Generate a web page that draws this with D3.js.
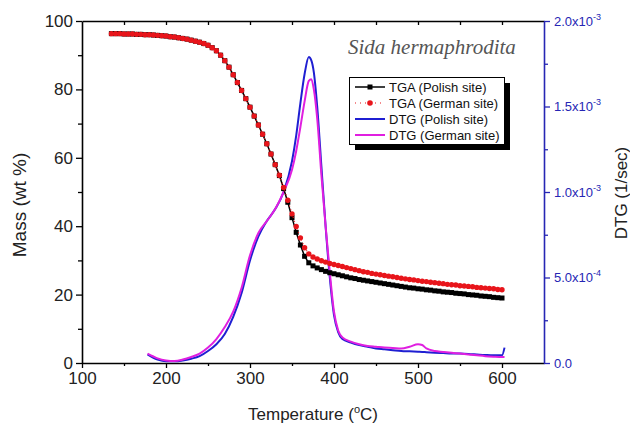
<!DOCTYPE html>
<html>
<head>
<meta charset="utf-8">
<script src="https://cdn.jsdelivr.net/npm/d3@7"></script>
<style>
    body { margin: 0; background: #fff; }
    svg { display: block; font-family: Arial, "Liberation Sans", sans-serif; }
</style>
</head>
<body>
<div id="chart"></div>
<script>

// TGA data (mass, wt %), sampled every 5 degC
const tgaTemp = [
    135, 140, 145, 150, 155, 160, 165, 170, 175, 180,
    185, 190, 195, 200, 205, 210, 215, 220, 225, 230,
    235, 240, 245, 250, 255, 260, 265, 270, 275, 280,
    285, 290, 295, 300, 305, 310, 315, 320, 325, 330,
    335, 340, 345, 350, 355, 360, 365, 370, 375, 380,
    385, 390, 395, 400, 405, 410, 415, 420, 425, 430,
    435, 440, 445, 450, 455, 460, 465, 470, 475, 480,
    485, 490, 495, 500, 505, 510, 515, 520, 525, 530,
    535, 540, 545, 550, 555, 560, 565, 570, 575, 580,
    585, 590, 595, 600
];
const tgaPolish = [
    96.3, 96.3, 96.3, 96.2, 96.2, 96.2, 96.1, 96.1, 96.0, 96.0,
    95.9, 95.8, 95.7, 95.6, 95.4, 95.3, 95.1, 94.9, 94.7, 94.4,
    94.1, 93.8, 93.4, 92.9, 92.2, 91.3, 90.0, 88.4, 86.5, 84.3,
    82.0, 79.7, 77.3, 74.8, 72.2, 69.6, 66.9, 64.1, 61.1, 58.0,
    54.8, 51.0, 47.0, 42.5, 38.2, 34.5, 31.2, 29.3, 28.4, 27.8,
    27.3, 26.8, 26.4, 26.1, 25.8, 25.5, 25.2, 24.9, 24.7, 24.4,
    24.2, 24.0, 23.8, 23.6, 23.4, 23.2, 23.0, 22.8, 22.6, 22.4,
    22.2, 22.0, 21.9, 21.7, 21.6, 21.4, 21.3, 21.1, 21.0, 20.8,
    20.7, 20.6, 20.4, 20.3, 20.2, 20.0, 19.9, 19.8, 19.6, 19.5,
    19.4, 19.2, 19.1, 19.0
];
const tgaGerman = [
    96.3, 96.3, 96.3, 96.2, 96.2, 96.2, 96.1, 96.1, 96.0, 96.0,
    95.9, 95.8, 95.7, 95.6, 95.4, 95.3, 95.1, 94.9, 94.7, 94.4,
    94.1, 93.8, 93.4, 92.9, 92.2, 91.3, 90.0, 88.4, 86.5, 84.3,
    82.0, 79.7, 77.3, 74.8, 72.2, 69.6, 66.9, 64.1, 61.1, 58.0,
    54.9, 51.3, 47.6, 43.6, 39.9, 36.6, 33.7, 31.9, 31.0, 30.4,
    29.9, 29.5, 29.1, 28.8, 28.5, 28.2, 27.9, 27.6, 27.3, 27.0,
    26.7, 26.5, 26.2, 26.0, 25.8, 25.6, 25.4, 25.2, 25.0, 24.8,
    24.6, 24.4, 24.3, 24.1, 23.9, 23.8, 23.6, 23.5, 23.3, 23.2,
    23.0, 22.9, 22.8, 22.6, 22.5, 22.4, 22.3, 22.1, 22.0, 21.9,
    21.8, 21.7, 21.5, 21.4
];

// DTG data, in units of 10^-4 1/sec
const dtgTemp = [
    178, 185, 190, 200, 210, 220, 230, 240, 250, 260,
    270, 280, 290, 300, 310, 320, 330, 340, 350, 355,
    360, 365, 370, 373, 376, 380, 385, 390, 395, 400,
    405, 410, 420, 430, 440, 450, 460, 470, 480, 490,
    500, 505, 510, 520, 530, 540, 550, 560, 570, 580,
    590, 600, 603
];
const dtgPolish = [
    0.5, 0.3, 0.2, 0.1, 0.1, 0.15, 0.25, 0.4, 0.7, 1.1,
    1.7, 2.7, 4.1, 6.0, 7.4, 8.3, 9.0, 10.0, 11.8, 13.3,
    15.2, 16.9, 17.9, 17.7, 17.0, 15.0, 11.5, 8.0, 5.0, 2.8,
    1.8, 1.4, 1.2, 1.05, 0.95, 0.85, 0.8, 0.75, 0.7, 0.68,
    0.66, 0.65, 0.63, 0.6, 0.58, 0.56, 0.55, 0.53, 0.5, 0.47,
    0.45, 0.45, 0.9
];
const dtgGerman = [
    0.55, 0.38, 0.27, 0.15, 0.12, 0.2, 0.35, 0.55, 0.9, 1.4,
    2.1, 3.0, 4.4, 6.3, 7.6, 8.3, 9.0, 10.0, 11.3, 12.4,
    13.8, 15.3, 16.5, 16.6, 16.0, 14.3, 11.0, 8.0, 5.3, 3.0,
    1.9, 1.5, 1.25, 1.1, 1.0, 0.95, 0.9, 0.88, 0.85, 0.95,
    1.1, 1.05, 0.85, 0.7, 0.65, 0.6, 0.55, 0.5, 0.45, 0.4,
    0.37, 0.35, 0.35
];

// axis ticks
const xTicks = [100, 200, 300, 400, 500, 600];
const xMinor = [150, 250, 350, 450, 550];
const xTopTicks = [150, 200, 250, 300, 350, 400, 450, 500, 550, 600];
const massTicks = [0, 20, 40, 60, 80, 100];
const massMinor = [10, 30, 50, 70, 90];
const dtgTicks = [0, 5, 10, 15, 20];
const dtgMinor = [2.5, 7.5, 12.5, 17.5];
const dtgTickLabels = [["0.0", ""], ["5.0x10", "-4"], ["1.0x10", "-3"], ["1.5x10", "-3"], ["2.0x10", "-3"]];

const legendItems = ["TGA (Polish site)", "TGA (German site)", "DTG (Polish site)", "DTG (German site)"];


class TgaChart {

    constructor(parentElement) {
        this.parentElement = parentElement;
        this.initVis();
    }

    initVis() {
        let vis = this;
        vis.width = 630;
        vis.height = 427;
        vis.blue = "#2626b4";

        vis.svg = d3.select("#" + vis.parentElement).append("svg")
            .attr("width", vis.width)
            .attr("height", vis.height);

        vis.x = d3.scaleLinear().domain([100, 650]).range([82, 544]);
        vis.yMass = d3.scaleLinear().domain([0, 100]).range([363, 21]);
        vis.yDtg = d3.scaleLinear().domain([0, 20]).range([363, 21]);

        vis.drawAxes();
        vis.drawData();
        vis.drawLegend();
    }

    drawAxes() {
        let vis = this;
        let x = vis.x;

        // bottom axis
        let gx = vis.svg.append("g").attr("transform", "translate(0,363)")
            .call(d3.axisBottom(x).tickValues(xTicks).tickSizeInner(5).tickSizeOuter(0).tickPadding(4));
        gx.selectAll("text").attr("font-size", 17).attr("fill", "#222").attr("font-family", "Arial, 'Liberation Sans'");
        vis.svg.append("g").attr("transform", "translate(0,363)")
            .call(d3.axisBottom(x).tickValues(xMinor).tickSize(3).tickFormat(""))
            .select(".domain").remove();

        // top border with inward ticks
        vis.svg.append("g").attr("transform", "translate(0,21)")
            .call(d3.axisBottom(x).tickValues(xTopTicks).tickSize(4).tickSizeOuter(0).tickFormat(""));

        // left axis
        let gy = vis.svg.append("g").attr("transform", "translate(82,0)")
            .call(d3.axisLeft(vis.yMass).tickValues(massTicks).tickSizeInner(6).tickSizeOuter(0).tickPadding(3));
        gy.selectAll("text").attr("font-size", 17).attr("fill", "#222").attr("font-family", "Arial, 'Liberation Sans'");
        vis.svg.append("g").attr("transform", "translate(82,0)")
            .call(d3.axisLeft(vis.yMass).tickValues(massMinor).tickSize(4).tickFormat(""))
            .select(".domain").remove();

        vis.svg.selectAll(".domain").attr("stroke-width", 1.6);
        vis.svg.selectAll(".tick line").attr("stroke-width", 1.3);

        // right axis (DTG), blue
        let gr = vis.svg.append("g").attr("transform", "translate(544,0)")
            .call(d3.axisRight(vis.yDtg).tickValues(dtgTicks).tickSizeInner(6).tickSizeOuter(0).tickPadding(4).tickFormat(""));
        gr.selectAll(".tick text").each(function (d, i) {
            let t = d3.select(this)
                .attr("font-size", 13).attr("fill", vis.blue)
                .attr("font-family", "Arial, 'Liberation Sans'");
            t.append("tspan").text(dtgTickLabels[i][0]);
            t.append("tspan").attr("font-size", 9).attr("dy", -6).text(dtgTickLabels[i][1]);
        });
        let grm = vis.svg.append("g").attr("transform", "translate(544,0)")
            .call(d3.axisRight(vis.yDtg).tickValues(dtgMinor).tickSize(4).tickFormat(""));
        grm.select(".domain").remove();
        gr.select(".domain").attr("stroke", vis.blue).attr("stroke-width", 1.6);
        gr.selectAll(".tick line").attr("stroke", vis.blue).attr("stroke-width", 1.3);
        grm.selectAll(".tick line").attr("stroke", vis.blue).attr("stroke-width", 1.3);

        // axis titles
        let xt = vis.svg.append("text").attr("x", 313).attr("y", 420)
            .attr("text-anchor", "middle").attr("font-size", 17).attr("fill", "#222");
        xt.append("tspan").text("Temperature (");
        xt.append("tspan").attr("font-size", 11).attr("dy", -7).text("o");
        xt.append("tspan").attr("dy", 7).text("C)");

        vis.svg.append("text")
            .attr("transform", "translate(26,205) rotate(-90)")
            .attr("text-anchor", "middle").attr("font-size", 19).attr("fill", "#222")
            .text("Mass (wt %)");

        vis.svg.append("text")
            .attr("transform", "translate(627,193) rotate(-90)")
            .attr("text-anchor", "middle").attr("font-size", 17).attr("fill", "#222")
            .text("DTG (1/sec)");

        // species title
        vis.svg.append("text").attr("x", 348).attr("y", 54)
            .attr("font-family", "'Liberation Serif', 'DejaVu Serif', serif")
            .attr("font-style", "italic").attr("font-size", 21).attr("fill", "#555")
            .text("Sida hermaphrodita");
    }

    drawData() {
        let vis = this;
        let x = vis.x;

        let tga = tgaTemp.map((t, i) => ({t: t, p: tgaPolish[i], g: tgaGerman[i]}));
        let dtg = dtgTemp.map((t, i) => ({t: t, p: dtgPolish[i], g: dtgGerman[i]}));

        let dtgLine = key => d3.line().curve(d3.curveMonotoneX)
            .x(d => x(d.t)).y(d => vis.yDtg(d[key]));

        vis.svg.append("path").datum(dtg)
            .attr("d", dtgLine("p")).attr("fill", "none")
            .attr("stroke", "#1f1fd2").attr("stroke-width", 2);
        vis.svg.append("path").datum(dtg)
            .attr("d", dtgLine("g")).attr("fill", "none")
            .attr("stroke", "#e01fe0").attr("stroke-width", 2);

        // TGA Polish: black line with squares
        vis.svg.append("path").datum(tga)
            .attr("d", d3.line().x(d => x(d.t)).y(d => vis.yMass(d.p)))
            .attr("fill", "none").attr("stroke", "#000").attr("stroke-width", 1.5);
        vis.svg.append("g").selectAll("rect").data(tga).enter().append("rect")
            .attr("x", d => x(d.t) - 2.5).attr("y", d => vis.yMass(d.p) - 2.5)
            .attr("width", 5).attr("height", 5).attr("fill", "#000");

        // TGA German: red dotted line with circles
        vis.svg.append("path").datum(tga)
            .attr("d", d3.line().x(d => x(d.t)).y(d => vis.yMass(d.g)))
            .attr("fill", "none").attr("stroke", "#e8151b").attr("stroke-width", 1.2)
            .attr("stroke-dasharray", "1,3");
        vis.svg.append("g").selectAll("circle").data(tga).enter().append("circle")
            .attr("cx", d => x(d.t)).attr("cy", d => vis.yMass(d.g))
            .attr("r", 2.7).attr("fill", "#e8151b");
    }

    drawLegend() {
        let vis = this;
        let g = vis.svg.append("g");
        g.append("rect").attr("x", 355).attr("y", 83).attr("width", 155).attr("height", 67).attr("fill", "#000");
        g.append("rect").attr("x", 349.5).attr("y", 77.5).attr("width", 155).attr("height", 67)
            .attr("fill", "#fff").attr("stroke", "#000").attr("stroke-width", 1);

        let rows = g.selectAll(".row").data(legendItems).enter().append("g")
            .attr("transform", (d, i) => "translate(0," + (87 + i * 16) + ")");
        rows.append("text").attr("x", 389).attr("y", 5)
            .attr("font-size", 13).attr("fill", "#111").text(d => d);

        let r = rows.nodes().map(n => d3.select(n));
        r[0].append("line").attr("x1", 355).attr("x2", 385).attr("stroke", "#000").attr("stroke-width", 1.5);
        r[0].append("rect").attr("x", 367.5).attr("y", -2.5).attr("width", 5).attr("height", 5).attr("fill", "#000");
        r[1].append("line").attr("x1", 355).attr("x2", 385).attr("stroke", "#e8151b")
            .attr("stroke-width", 1.2).attr("stroke-dasharray", "1,4");
        r[1].append("circle").attr("cx", 370).attr("r", 2.8).attr("fill", "#e8151b");
        r[2].append("line").attr("x1", 355).attr("x2", 385).attr("stroke", "#1f1fd2").attr("stroke-width", 2);
        r[3].append("line").attr("x1", 355).attr("x2", 385).attr("stroke", "#e01fe0").attr("stroke-width", 2);
    }
}

new TgaChart("chart");

</script>
</body>
</html>
